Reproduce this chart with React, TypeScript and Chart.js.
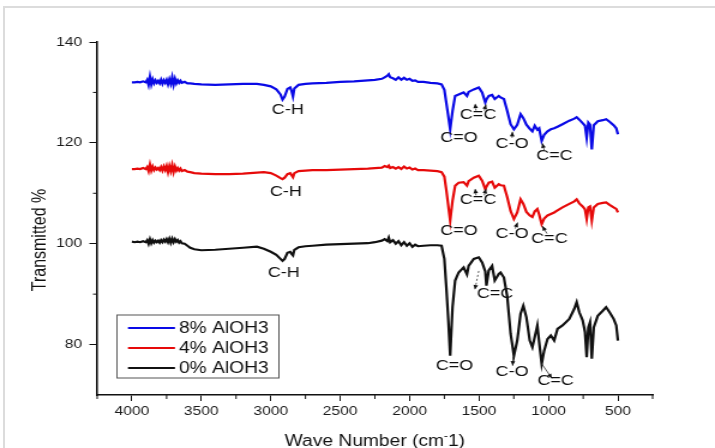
import React, { useEffect, useRef } from "react";
import { Chart, registerables } from "chart.js";

Chart.register(...registerables);

// ---------------- data ----------------
const waveNumbers = [
  4000, 3980, 3960, 3940, 3920, 3900, 3890, 3880, 3870, 3860, 3850, 3840, 3830, 3820, 3810, 3800, 3790, 3780,
  3770, 3760, 3750, 3740, 3730, 3720, 3710, 3700, 3690, 3680, 3670, 3660, 3650, 3640, 3620, 3600, 3580, 3550,
  3500, 3400, 3300, 3200, 3100, 3050, 3000, 2960, 2930, 2915, 2900, 2880, 2860, 2850, 2840, 2830, 2800, 2750,
  2700, 2600, 2500, 2400, 2300,
  2250, 2200, 2180, 2160, 2150, 2140, 2120, 2100, 2080, 2060, 2040, 2020, 2000, 1980, 1960, 1940, 1900, 1850,
  1800, 1770,
  1750, 1735, 1720, 1708, 1691, 1672, 1647, 1611, 1587, 1575, 1538, 1502, 1478, 1455, 1447, 1430, 1406, 1387,
  1358, 1345, 1321, 1297, 1273, 1249, 1225, 1201, 1181, 1159, 1135, 1116, 1099, 1080, 1067, 1049, 1031, 1007,
  983, 959, 935, 899, 850, 814, 797, 778, 754, 737, 725, 713, 701, 688, 674, 645, 609, 585, 560, 531, 512, 500,
];

const alOH8 = [
  132.0, 132.0, 132.1, 132.0, 132.2, 132.0, 132.5, 131.5, 133.1, 131.6, 132.6, 131.8, 132.4, 131.9, 132.3, 131.8,
  132.5, 131.7, 132.4, 131.9, 132.5, 131.6, 132.6, 131.7, 133.0, 131.5, 132.7, 131.8, 132.4, 131.9, 132.3, 131.9,
  132.1, 131.8, 131.8, 131.7,
  131.6, 131.5, 131.6, 131.7, 131.7, 131.5, 131.2, 130.6, 129.6, 128.6, 129.2, 130.7, 131.0, 130.3, 129.2, 130.8,
  131.5, 131.7, 131.8, 131.9, 132.1, 132.2, 132.4,
  132.5, 132.7, 133.0, 133.3, 133.6, 133.0, 132.8, 132.5, 133.0, 132.5, 132.9, 132.5, 132.7, 132.3, 132.4, 132.1,
  132.1, 131.9, 131.8, 131.6,
  130.5, 127.8, 125.0, 122.7, 126.3, 129.3, 129.6, 130.0, 129.3, 130.1, 130.6, 131.0, 130.0, 128.0, 128.6, 129.3,
  129.5, 128.7, 129.3, 129.0, 128.7, 126.3, 123.7, 122.7, 123.6, 125.7, 124.9, 123.6, 122.8, 122.3, 123.4, 122.6,
  122.9, 120.4, 121.6, 122.3, 122.7, 122.9, 123.2, 123.7, 124.4, 124.8, 125.1, 124.6, 123.9, 123.4, 121.0, 124.0,
  123.6, 118.7, 123.5, 124.3, 124.5, 124.7, 124.2, 123.5, 122.9, 121.7,
];

const alOH4 = [
  114.8, 114.8, 114.9, 114.8, 115.0, 114.8, 115.2, 114.4, 115.7, 114.5, 115.3, 114.6, 115.1, 114.7, 115.0, 114.6,
  115.2, 114.5, 115.3, 114.6, 115.4, 114.2, 115.4, 114.4, 115.6, 114.2, 115.3, 114.5, 115.0, 114.5, 114.9, 114.4,
  114.6, 114.3, 114.2, 114.0,
  113.9, 113.8, 113.8, 113.9, 114.1, 114.2, 114.0, 113.5, 113.0, 112.8, 113.1, 113.8, 114.0, 113.6, 113.2, 114.0,
  114.4, 114.5, 114.6, 114.6, 114.7, 114.8, 114.9,
  115.0, 115.1, 115.4, 115.2, 115.5, 115.0, 115.2, 114.9, 115.2, 114.8, 115.3, 114.9, 115.1, 114.7, 114.9, 114.6,
  114.6, 114.5, 114.4, 114.2,
  113.3, 110.5, 107.2, 104.6, 108.5, 111.5, 112.1, 112.2, 111.5, 112.4, 113.1, 113.5, 112.5, 110.8, 111.3, 112.1,
  112.3, 111.1, 111.8, 111.6, 111.5, 109.2, 106.5, 104.9, 106.2, 108.8, 107.9, 106.3, 105.6, 105.3, 106.4, 106.9,
  105.8, 103.9, 105.0, 105.6, 105.9, 106.2, 106.6, 107.2, 107.9, 108.4, 108.8, 108.0, 107.4, 106.8, 104.9, 107.2,
  107.4, 104.6, 107.2, 107.9, 108.1, 108.2, 107.7, 107.2, 106.9, 106.2,
];

const alOH0 = [
  100.4, 100.3, 100.4, 100.3, 100.5, 100.3, 100.7, 100.0, 100.9, 100.1, 100.7, 100.2, 100.6, 100.3, 100.6, 100.2,
  100.7, 100.3, 100.8, 100.4, 100.9, 100.3, 101.0, 100.2, 101.0, 100.3, 100.9, 100.4, 100.7, 100.2, 100.5, 100.1,
  100.0, 99.6, 99.2, 98.9,
  98.7, 98.8, 99.0, 99.2, 99.4, 99.0, 98.4, 97.8, 97.0, 96.6, 97.0, 98.2, 98.4, 98.0, 97.7, 98.8,
  99.3, 99.5, 99.6, 99.8, 99.9, 100.0, 100.1,
  100.3, 100.6, 100.9, 100.5, 101.2, 100.3, 100.7, 100.0, 100.5, 99.7, 100.3, 99.6, 100.1, 99.4, 99.8, 99.5,
  99.6, 99.7, 99.7, 99.6,
  97.0, 91.0, 84.2, 77.8, 87.4, 92.7, 94.3, 95.3, 93.9, 95.6, 97.0, 97.3, 96.3, 94.5, 91.7, 94.7,
  95.6, 92.7, 94.0, 94.3, 93.3, 89.5, 82.2, 77.8, 80.8, 86.1, 87.7, 85.4, 80.8, 79.5, 81.5, 83.8,
  80.5, 76.2, 78.8, 81.1, 81.8, 80.8, 83.1, 83.8, 85.1, 87.1, 88.4, 86.4, 84.8, 82.5, 77.5, 83.4,
  84.4, 77.2, 83.4, 85.7, 86.7, 87.4, 86.4, 85.1, 83.8, 80.8,
];

const seriesNames = ["8% AlOH3", "4% AlOH3", "0% AlOH3"];
const seriesColors = ["#0a0ae6", "#e60a0a", "#111111"];

const xTickValues = [4000, 3500, 3000, 2500, 2000, 1500, 1000, 500];
const xMinorValues = [4250, 3750, 3250, 2750, 2250, 1750, 1250, 750, 250];
const yTickValues = [80, 100, 120, 140];
const yMinorValues = [90, 110, 130];

// band labels (wave number, transmittance)
const bandLabels = ["C-H", "C=O", "C=C", "C-O", "C=C", "C-H", "C=O", "C=C", "C-O", "C=C", "C-H", "C=O", "C=C", "C-O", "C=C"];
const bandLabelX = [2877, 1645, 1507, 1262, 957, 2891, 1645, 1507, 1262, 993, 2906, 1677, 1384, 1262, 949];
const bandLabelY = [126.6, 121.0, 125.5, 119.8, 117.4, 110.3, 102.6, 108.7, 102.0, 101.0, 94.3, 75.8, 90.0, 74.6, 72.9];

// arrows (arrow head at the "to" point), data units
const arrowFromX = [1522, 1462, 1262, 1030, 1522, 1462, 1240, 1010, 1502, 1255, 1049];
const arrowFromY = [126.4, 126.4, 121.0, 118.5, 109.6, 109.6, 103.0, 102.0, 94.6, 77.6, 76.2];
const arrowToX = [1528, 1450, 1260, 1045, 1528, 1450, 1222, 1045, 1530, 1258, 975];
const arrowToY = [127.8, 127.6, 122.2, 119.9, 110.9, 110.9, 104.2, 103.5, 90.9, 75.8, 73.3];
const arrowDashed = [true, false, false, false, true, false, false, false, true, false, false];

// ---------------- layout ----------------
const PAGE_W = 715;
const PAGE_H = 448;
const SX = 1.2; // horizontal stretch of the original figure
const CW = Math.round(PAGE_W / SX);
const FONT = '"Liberation Sans", Arial, Helvetica, sans-serif';

const overlayPlugin = {
  id: "overlay",
  afterDraw(chart: any) {
    const ctx = chart.ctx as CanvasRenderingContext2D;
    const xs = chart.scales.x;
    const ys = chart.scales.y;
    const { left, bottom } = chart.chartArea;
    ctx.save();

    // minor ticks
    ctx.strokeStyle = "#111";
    ctx.lineWidth = 1;
    yMinorValues.forEach((v) => {
      const py = ys.getPixelForValue(v);
      ctx.beginPath();
      ctx.moveTo(left - 3.5, py);
      ctx.lineTo(left, py);
      ctx.stroke();
    });
    xMinorValues.forEach((v) => {
      const px = xs.getPixelForValue(v);
      ctx.beginPath();
      ctx.moveTo(px, bottom);
      ctx.lineTo(px, bottom + 4);
      ctx.stroke();
    });

    // band labels
    ctx.fillStyle = "#111";
    ctx.font = `15px ${FONT}`;
    ctx.textAlign = "center";
    ctx.textBaseline = "middle";
    bandLabels.forEach((t, i) => {
      ctx.fillText(t, xs.getPixelForValue(bandLabelX[i]), ys.getPixelForValue(bandLabelY[i]));
    });

    // arrows
    arrowFromX.forEach((_, i) => {
      const x1 = xs.getPixelForValue(arrowFromX[i]);
      const y1 = ys.getPixelForValue(arrowFromY[i]);
      const x2 = xs.getPixelForValue(arrowToX[i]);
      const y2 = ys.getPixelForValue(arrowToY[i]);
      ctx.strokeStyle = "#333";
      ctx.lineWidth = 0.8;
      ctx.setLineDash(arrowDashed[i] ? [2, 2] : []);
      ctx.beginPath();
      ctx.moveTo(x1, y1);
      ctx.lineTo(x2, y2);
      ctx.stroke();
      ctx.setLineDash([]);
      const a = Math.atan2(y2 - y1, x2 - x1);
      const h = 5;
      ctx.fillStyle = "#111";
      ctx.beginPath();
      ctx.moveTo(x2, y2);
      ctx.lineTo(x2 - h * Math.cos(a - 0.4), y2 - h * Math.sin(a - 0.4));
      ctx.lineTo(x2 - h * Math.cos(a + 0.4), y2 - h * Math.sin(a + 0.4));
      ctx.closePath();
      ctx.fill();
    });

    // legend
    const lx = 117 / SX;
    const lw = (279 - 117) / SX;
    const ly = 315;
    const lh = 63;
    ctx.strokeStyle = "#555";
    ctx.lineWidth = 1;
    ctx.strokeRect(lx, ly, lw, lh);
    ctx.font = `16px ${FONT}`;
    ctx.textAlign = "left";
    ctx.textBaseline = "middle";
    chart.data.datasets.forEach((ds: any, i: number) => {
      const ry = 328 + i * 20;
      ctx.strokeStyle = ds.borderColor;
      ctx.lineWidth = 2;
      ctx.beginPath();
      ctx.moveTo(128 / SX, ry);
      ctx.lineTo(175 / SX, ry);
      ctx.stroke();
      ctx.fillStyle = "#111";
      ctx.fillText(ds.label, 179 / SX, ry + 1);
    });

    // axis titles
    ctx.fillStyle = "#111";
    ctx.font = `16px ${FONT}`;
    ctx.save();
    ctx.translate(40 / SX, 240);
    ctx.rotate(-Math.PI / 2);
    ctx.textAlign = "center";
    ctx.textBaseline = "middle";
    ctx.fillText("Transmitted %", 0, 0);
    ctx.restore();

    const part1 = "Wave Number (cm";
    const sup = "-";
    const part2 = "1)";
    ctx.font = `16px ${FONT}`;
    const w1 = ctx.measureText(part1).width;
    const w3 = ctx.measureText(part2).width;
    ctx.font = `10px ${FONT}`;
    const w2 = ctx.measureText(sup).width;
    const total = w1 + w2 + w3;
    let tx = 375 / SX - total / 2;
    const base = 446;
    ctx.textAlign = "left";
    ctx.textBaseline = "alphabetic";
    ctx.font = `16px ${FONT}`;
    ctx.fillText(part1, tx, base);
    tx += w1;
    ctx.font = `10px ${FONT}`;
    ctx.fillText(sup, tx, base - 7);
    tx += w2;
    ctx.font = `16px ${FONT}`;
    ctx.fillText(part2, tx, base);

    ctx.restore();
  },
};

export default function App() {
  const canvasRef = useRef<HTMLCanvasElement | null>(null);

  useEffect(() => {
    const canvas = canvasRef.current;
    if (!canvas) return;
    const values = [alOH8, alOH4, alOH0];
    const chart = new Chart(canvas, {
      type: "line",
      data: {
        datasets: values.map((vals, i) => ({
          label: seriesNames[i],
          data: waveNumbers.map((x, j) => ({ x, y: vals[j] })),
          borderColor: seriesColors[i],
          backgroundColor: seriesColors[i],
          borderWidth: 2.2,
          pointRadius: 0,
          tension: 0,
          fill: false,
        })),
      },
      options: {
        animation: false,
        responsive: false,
        devicePixelRatio: 1,
        events: [],
        layout: { padding: { top: 42, right: CW - Math.round(653 / SX), left: 0, bottom: 0 } },
        plugins: {
          legend: { display: false },
          tooltip: { enabled: false },
          title: { display: false },
        },
        scales: {
          x: {
            type: "linear",
            reverse: true,
            min: 250,
            max: 4250,
            afterBuildTicks: (s: any) => {
              s.ticks = xTickValues.map((v) => ({ value: v }));
            },
            afterFit: (s: any) => {
              s.height = PAGE_H - 395;
            },
            ticks: {
              autoSkip: false,
              maxRotation: 0,
              padding: 3,
              color: "#1a1a1a",
              font: { family: FONT, size: 13 },
              callback: (v: any) => String(v),
            },
            grid: {
              drawOnChartArea: false,
              drawTicks: true,
              tickLength: 6,
              tickColor: "#111",
              tickWidth: 1,
            },
            border: { display: true, color: "#111", width: 1.5 },
          },
          y: {
            type: "linear",
            min: 70,
            max: 140,
            afterBuildTicks: (s: any) => {
              s.ticks = yTickValues.map((v) => ({ value: v }));
            },
            afterFit: (s: any) => {
              s.width = Math.round(97 / SX);
            },
            ticks: {
              padding: 6,
              color: "#1a1a1a",
              font: { family: FONT, size: 13 },
              callback: (v: any) => String(v),
            },
            grid: {
              drawOnChartArea: false,
              drawTicks: true,
              tickLength: 6.5,
              tickColor: "#111",
              tickWidth: 1,
            },
            border: { display: true, color: "#111", width: 1.6 },
          },
        },
      },
      plugins: [overlayPlugin],
    });
    return () => chart.destroy();
  }, []);

  return (
    <div style={{ position: "absolute", left: 0, top: 0, width: PAGE_W, height: PAGE_H, background: "#fff", overflow: "hidden" }}>
      <div
        style={{
          position: "absolute",
          left: 3,
          top: 6,
          width: PAGE_W,
          height: PAGE_H,
          borderTop: "2px solid #dcdcdc",
          borderLeft: "2px solid #dcdcdc",
        }}
      />
      <canvas
        ref={canvasRef}
        width={CW}
        height={PAGE_H}
        style={{ position: "absolute", left: 0, top: 0, width: PAGE_W, height: PAGE_H, display: "block" }}
      />
    </div>
  );
}
